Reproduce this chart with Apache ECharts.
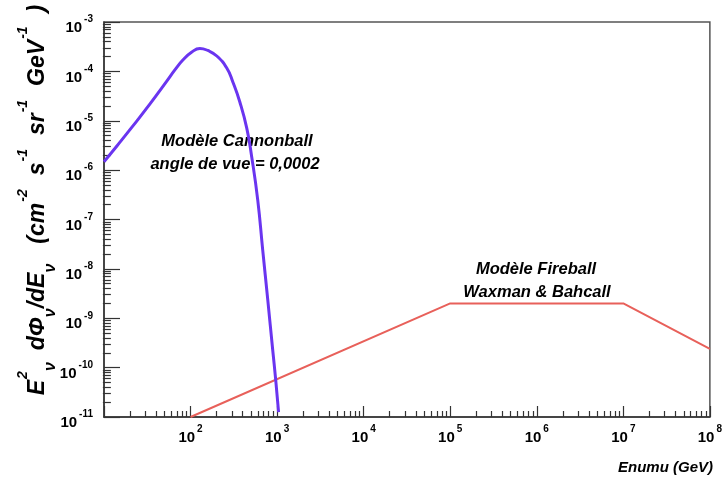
<!DOCTYPE html>
<html><head><meta charset="utf-8">
<script src="https://cdn.jsdelivr.net/npm/echarts@6/dist/echarts.min.js"></script>
<style>html,body{margin:0;padding:0;background:#fff}#c{width:725px;height:478px}</style>
</head><body><div id="c"></div><script>
// Cannonball model (GeV, E^2 dPhi/dE)
const cannonEnergy = [10, 14.1, 21.6, 34, 53.4, 65.9, 81.5, 103.5, 128, 158, 201, 262, 308, 371, 446, 509, 597, 682, 780, 889, 964, 1040];
const cannonFlux = [1.48e-6, 3.09e-6, 7.85e-6, 2.19e-5, 6.4e-5, 1.07e-4, 1.70e-4, 2.47e-4, 2.91e-4, 2.65e-4, 2.05e-4, 1.17e-4, 6.1e-5, 2.4e-5, 7.1e-6, 1.85e-6, 2.5e-7, 2.4e-8, 2.35e-9, 2.3e-10, 5.6e-11, 1.26e-11];
// Fireball model (Waxman & Bahcall)
const fireEnergy = [100, 1e5, 1e7, 1e8];
const fireFlux = [1e-11, 2e-9, 2e-9, 2.4e-10];
// Tick labels
const xTickValues = [1e2, 1e3, 1e4, 1e5, 1e6, 1e7, 1e8];
const xTickExponents = ['2', '3', '4', '5', '6', '7', '8'];
const yTickValues = [1e-11, 1e-10, 1e-9, 1e-8, 1e-7, 1e-6, 1e-5, 1e-4, 1e-3];
const yTickExponents = ['-11', '-10', '-9', '-8', '-7', '-6', '-5', '-4', '-3'];
const xMajorTicks = [1e1, 1e2, 1e3, 1e4, 1e5, 1e6, 1e7, 1e8];
const yMajorTicks = yTickValues;

function minorTicks(lo, hi) {
  const out = [];
  for (let e = lo; e < hi; e++) for (let m = 2; m <= 9; m++) out.push(m * Math.pow(10, e));
  return out;
}
function expFor(values, exps, v) {
  const i = values.findIndex(t => Math.abs(Math.log10(t) - Math.log10(v)) < 1e-6);
  return i < 0 ? '' : exps[i];
}
const FONT = '"Liberation Sans", Arial, Helvetica, sans-serif';
const labelRich = {
  b: { fontFamily: FONT, fontSize: 15, fontWeight: 'bold', color: '#000', lineHeight: 15, padding: [6, 0, 0, 0], verticalAlign: 'top' },
  s: { fontFamily: FONT, fontSize: 10, fontWeight: 'bold', color: '#000', lineHeight: 10, padding: [0, 0, 0, 2], verticalAlign: 'top' }
};
const axisLineStyle = { color: '#333', width: 1.5 };

const chart = echarts.init(document.getElementById('c'), null, { renderer: 'canvas' });
const W = 725, H = 478, GL = 104, GR = 14, GT = 22, GB = 61;

const ttl = { fontFamily: FONT, fontWeight: 'bold', fontStyle: 'italic', color: '#000', verticalAlign: 'top' };
const tMain = (gap) => Object.assign({}, ttl, { fontSize: 23, lineHeight: 23, padding: [16, 0, 0, gap] });
const titleRich = {
  t: tMain(0), g1: tMain(12), g2: tMain(20), g3: tMain(14),
  sp: Object.assign({}, ttl, { fontSize: 14, lineHeight: 14, padding: [6, 0, 0, 1] }),
  sb: Object.assign({}, ttl, { fontSize: 16, lineHeight: 16, padding: [32, 0, 0, 0] })
};
const titleText = '{t|E}{sp|2}{sb|ν}{g1|dΦ}{sb|ν}{t|/dE}{sb|ν}{g2|(cm}{sp|-2}{g3|s}{sp|-1}{g3|sr}{sp|-1}{g3|GeV}{sp|-1}{g3|)}';
const annot = { fontFamily: FONT, fontWeight: 'bold', fontStyle: 'italic', fontSize: 16.5, fill: '#000', align: 'center', verticalAlign: 'middle' };

chart.setOption({
  animation: false,
  backgroundColor: '#fff',
  grid: { left: GL, right: GR, top: GT, bottom: GB, show: true, borderColor: '#555', borderWidth: 1.5, containLabel: false },
  xAxis: [
    {
      type: 'log', logBase: 10, min: 1e1, max: 1e8, position: 'bottom',
      axisLine: { show: true, lineStyle: axisLineStyle },
      axisTick: { show: true, inside: true, length: 11, customValues: xMajorTicks, lineStyle: { color: '#333', width: 1.2 } },
      axisLabel: { show: true, margin: 7, customValues: xTickValues, hideOverlap: false,
        formatter: v => '{b|10}{s|' + expFor(xTickValues, xTickExponents, v) + '}', rich: labelRich },
      splitLine: { show: false }
    },
    {
      type: 'log', logBase: 10, min: 1e1, max: 1e8, position: 'top', offset: -(H - GT - GB),
      axisLine: { show: false },
      axisTick: { show: true, inside: false, length: 6, customValues: minorTicks(1, 8), lineStyle: { color: '#333', width: 1.2 } },
      axisLabel: { show: false },
      splitLine: { show: false }
    }
  ],
  yAxis: [
    {
      type: 'log', logBase: 10, min: 1e-11, max: 1e-3, position: 'left',
      axisLine: { show: true, lineStyle: axisLineStyle },
      axisTick: { show: true, inside: true, length: 16, customValues: yMajorTicks, lineStyle: { color: '#333', width: 1.2 } },
      axisLabel: { show: true, margin: 11, customValues: yTickValues, hideOverlap: false,
        formatter: v => '{b|10}{s|' + expFor(yTickValues, yTickExponents, v) + '}', rich: labelRich },
      splitLine: { show: false }
    },
    {
      type: 'log', logBase: 10, min: 1e-11, max: 1e-3, position: 'right', offset: -(W - GL - GR),
      axisLine: { show: false },
      axisTick: { show: true, inside: false, length: 8, customValues: minorTicks(-11, -3), lineStyle: { color: '#333', width: 1.2 } },
      axisLabel: { show: false },
      splitLine: { show: false }
    }
  ],
  series: [
    {
      name: 'Cannonball', type: 'line', xAxisIndex: 0, yAxisIndex: 0,
      data: cannonEnergy.map((e, i) => [e, cannonFlux[i]]),
      smooth: 0.5, showSymbol: false, symbol: 'none',
      lineStyle: { color: '#6a35f0', width: 3 }, z: 3
    },
    {
      name: 'Fireball', type: 'line', xAxisIndex: 0, yAxisIndex: 0,
      data: fireEnergy.map((e, i) => [e, fireFlux[i]]),
      showSymbol: false, symbol: 'none',
      lineStyle: { color: '#e8605a', width: 2 }, z: 2
    }
  ],
  graphic: [
    { type: 'text', x: 22, y: 200, rotation: Math.PI / 2,
      style: { text: titleText, rich: titleRich, align: 'center', verticalAlign: 'middle' } },
    { type: 'text', x: 237, y: 141, style: Object.assign({ text: 'Modèle Cannonball' }, annot) },
    { type: 'text', x: 235, y: 164, style: Object.assign({ text: 'angle de vue = 0,0002' }, annot) },
    { type: 'text', x: 536, y: 269, style: Object.assign({ text: 'Modèle Fireball' }, annot) },
    { type: 'text', x: 537, y: 292, style: Object.assign({ text: 'Waxman & Bahcall' }, annot) },
    { type: 'text', x: 713, y: 468, style: Object.assign({}, annot, { text: 'Enumu (GeV)', fontSize: 15, align: 'right' }) }
  ]
});
</script></body></html>
